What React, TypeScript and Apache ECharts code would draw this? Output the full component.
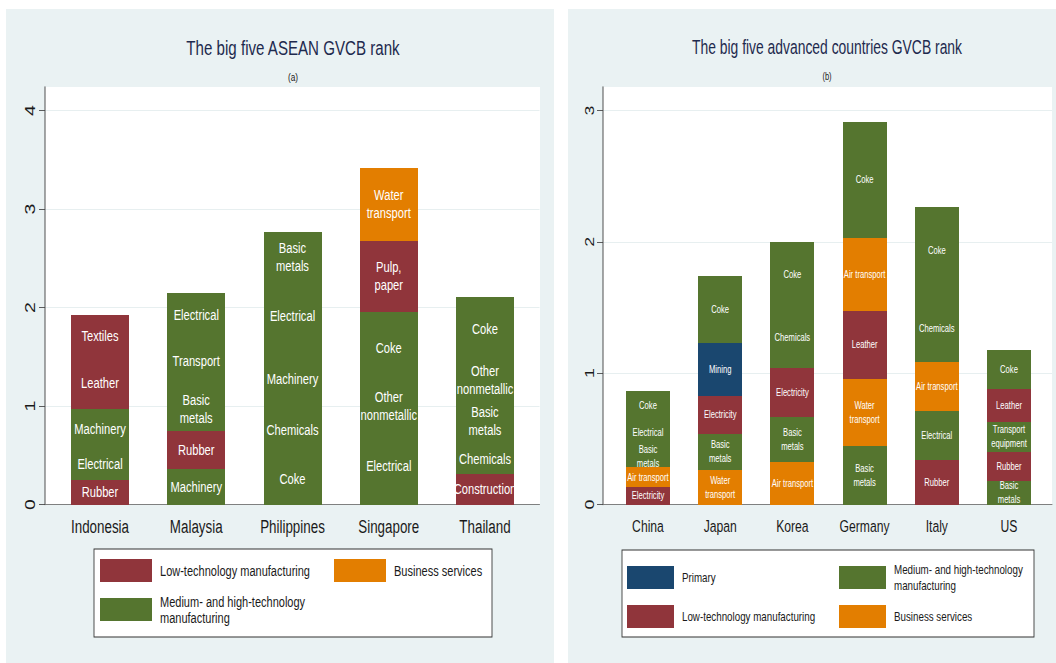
import React, { useEffect, useRef } from 'react';
import * as echarts from 'echarts';

// ---------- DATA ----------
const aseanCountries = ['Indonesia', 'Malaysia', 'Philippines', 'Singapore', 'Thailand'];
const advancedCountries = ['China', 'Japan', 'Korea', 'Germany', 'Italy', 'US'];

// group keys: P = Primary, L = Low-tech manuf., M = Medium/high-tech manuf., B = Business services
const groupKeys = ['P', 'L', 'M', 'B'];
const groupLabels = [
  'Primary',
  'Low-technology manufacturing',
  'Medium- and high-technology\nmanufacturing',
  'Business services',
];
const groupColors = ['#1A476F', '#90353B', '#55752F', '#E37E00'];

type Seg = [string, string, number];

// segments per country, bottom -> top: [sector, group, height]
const indonesia: Seg[] = [['Rubber', 'L', 0.25], ['Electrical', 'M', 0.32], ['Machinery', 'M', 0.4], ['Leather', 'L', 0.53], ['Textiles', 'L', 0.42]];
const malaysia: Seg[] = [['Machinery', 'M', 0.36], ['Rubber', 'L', 0.39], ['Basic\nmetals', 'M', 0.45], ['Transport', 'M', 0.51], ['Electrical', 'M', 0.44]];
const philippines: Seg[] = [['Coke', 'M', 0.53], ['Chemicals', 'M', 0.45], ['Machinery', 'M', 0.59], ['Electrical', 'M', 0.7], ['Basic\nmetals', 'M', 0.5]];
const singapore: Seg[] = [['Electrical', 'M', 0.78], ['Other\nnonmetallic', 'M', 0.44], ['Coke', 'M', 0.74], ['Pulp,\npaper', 'L', 0.72], ['Water\ntransport', 'B', 0.74]];
const thailand: Seg[] = [['Construction', 'L', 0.31], ['Chemicals', 'M', 0.31], ['Basic\nmetals', 'M', 0.46], ['Other\nnonmetallic', 'M', 0.38], ['Coke', 'M', 0.65]];

const china: Seg[] = [['Electricity', 'L', 0.13], ['Air transport', 'B', 0.155], ['Basic\nmetals', 'M', 0.165], ['Electrical', 'M', 0.19], ['Coke', 'M', 0.225]];
const japan: Seg[] = [['Water\ntransport', 'B', 0.26], ['Basic\nmetals', 'M', 0.28], ['Electricity', 'L', 0.29], ['Mining', 'P', 0.4], ['Coke', 'M', 0.51]];
const korea: Seg[] = [['Air transport', 'B', 0.32], ['Basic\nmetals', 'M', 0.35], ['Electricity', 'L', 0.37], ['Chemicals', 'M', 0.47], ['Coke', 'M', 0.49]];
const germany: Seg[] = [['Basic\nmetals', 'M', 0.445], ['Water\ntransport', 'B', 0.51], ['Leather', 'L', 0.52], ['Air transport', 'B', 0.555], ['Coke', 'M', 0.885]];
const italy: Seg[] = [['Rubber', 'L', 0.34], ['Electrical', 'M', 0.37], ['Air transport', 'B', 0.375], ['Chemicals', 'M', 0.515], ['Coke', 'M', 0.665]];
const us: Seg[] = [['Basic\nmetals', 'M', 0.18], ['Rubber', 'L', 0.22], ['Transport\nequipment', 'M', 0.23], ['Leather', 'L', 0.25], ['Coke', 'M', 0.3]];

const aseanData = [indonesia, malaysia, philippines, singapore, thailand];
const advancedData = [china, japan, korea, germany, italy, us];

const aseanTicks = [0, 1, 2, 3, 4];
const advancedTicks = [0, 1, 2, 3];
const aseanMax = 4.24;
const advancedMax = 3.18;

const aseanTitle = 'The big five ASEAN GVCB rank';
const aseanSub = '(a)';
const advancedTitle = 'The big five advanced countries GVCB rank';
const advancedSub = '(b)';

const aseanLegend = ['L', 'B', 'M'];
const advancedLegend = ['P', 'M', 'L', 'B'];

// ---------- STYLE ----------
// The reference is a horizontally squeezed Stata graph: draw at full width, then squeeze with CSS.
const SX = 0.72;
const X = (px: number) => px / SX;
const W = 1056;
const H = 663;
const FONT = "'Liberation Sans', Arial, Helvetica, sans-serif";
const PANEL_BG = '#EAF2F3';
const GRID_LINE = '#E3ECEE';
const TITLE_COLOR = '#1E2A4E';
const TEXT_COLOR = '#1a1a1a';

const colorOf = (k: string) => groupColors[groupKeys.indexOf(k)];
const labelOf = (k: string) => groupLabels[groupKeys.indexOf(k)];

function buildSeries(data: Seg[][], axisIndex: number, stack: string, barWidth: number, fontSize: number, lineHeight: number) {
  const levels = Math.max(...data.map((d) => d.length));
  const out: any[] = [];
  for (let k = 0; k < levels; k++) {
    out.push({
      type: 'bar',
      xAxisIndex: axisIndex,
      yAxisIndex: axisIndex,
      stack,
      barWidth: X(barWidth),
      data: data.map((segs) =>
        segs[k] ? { value: segs[k][2], itemStyle: { color: colorOf(segs[k][1]) } } : '-'
      ),
      label: {
        show: true,
        position: 'inside',
        color: '#ffffff',
        fontFamily: FONT,
        fontSize,
        lineHeight,
        formatter: (p: any) => {
          const s = data[p.dataIndex][k];
          return s ? s[0] : '';
        },
      },
      emphasis: { disabled: true },
    });
  }
  return out;
}

function legendGraphics(keys: string[], box: number[], cols: number[], rows: number[], sw: number, sh: number, textGap: number, fontSize: number, lineHeight: number) {
  const els: any[] = [
    {
      type: 'rect',
      shape: { x: X(box[0]), y: box[1], width: X(box[2]), height: box[3] },
      style: { fill: '#ffffff', stroke: '#333333', lineWidth: 1.2 },
      z: 5,
    },
  ];
  keys.forEach((k, i) => {
    const cx = cols[i % 2];
    const ry = rows[Math.floor(i / 2)];
    els.push({
      type: 'rect',
      shape: { x: X(cx), y: ry, width: X(sw), height: sh },
      style: { fill: colorOf(k) },
      z: 6,
    });
    els.push({
      type: 'text',
      x: X(cx + sw + textGap),
      y: ry + sh / 2,
      style: {
        text: labelOf(k),
        fill: TEXT_COLOR,
        fontFamily: FONT,
        fontSize,
        lineHeight,
        align: 'left',
        verticalAlign: 'middle',
      },
      z: 6,
    });
  });
  return els;
}

function yAxisMain(grid: number, max: number, ticks: number[], fontSize: number, margin: number) {
  return {
    gridIndex: grid,
    type: 'value',
    min: 0,
    max,
    interval: 1,
    axisLine: { show: true, lineStyle: { color: '#444', width: 1.3 } },
    axisTick: { show: true, length: X(6), customValues: ticks, lineStyle: { color: '#444', width: 1 } },
    axisLabel: {
      rotate: 90,
      margin: X(margin),
      fontSize,
      fontFamily: FONT,
      color: TEXT_COLOR,
      customValues: ticks,
      formatter: (v: number) => String(v),
    },
    splitLine: { show: true, lineStyle: { color: GRID_LINE, width: 1 } },
  };
}

function xAxisLine(grid: number) {
  return {
    gridIndex: grid,
    type: 'value',
    min: 0,
    max: 1,
    axisLine: { show: true, lineStyle: { color: '#6e6e6e', width: 1 } },
    axisTick: { show: false },
    axisLabel: { show: false },
    splitLine: { show: false },
  };
}

function xAxisCat(grid: number, cats: string[], fontSize: number, margin: number) {
  return {
    gridIndex: grid,
    type: 'category',
    data: cats,
    axisLine: { show: false },
    axisTick: { show: false },
    axisLabel: { interval: 0, fontSize, fontFamily: FONT, color: TEXT_COLOR, margin },
  };
}

function yAxisHidden(grid: number, max: number) {
  return { gridIndex: grid, type: 'value', min: 0, max, show: false };
}

export default function App() {
  const ref = useRef<HTMLDivElement>(null);

  useEffect(() => {
    if (!ref.current) return;
    const chart = echarts.init(ref.current, undefined, { renderer: 'svg' });
    const top = 87;
    const h = 417.5;

    const option: any = {
      animation: false,
      backgroundColor: '#ffffff',
      grid: [
        { left: X(45), top, width: X(494.5), height: h },
        { left: X(51.875), top, width: X(481.25), height: h },
        { left: X(603), top, width: X(449), height: h },
        { left: X(611.9), top, width: X(433.2), height: h },
      ],
      xAxis: [
        xAxisLine(0),
        xAxisCat(1, aseanCountries, 18.6, 12),
        xAxisLine(2),
        xAxisCat(3, advancedCountries, 16.9, 13.5),
      ],
      yAxis: [
        yAxisMain(0, aseanMax, aseanTicks, 19.5, 7),
        yAxisHidden(1, aseanMax),
        yAxisMain(2, advancedMax, advancedTicks, 17.7, 7),
        yAxisHidden(3, advancedMax),
      ],
      series: [
        ...buildSeries(aseanData, 1, 'asean', 58, 15.5, 18),
        ...buildSeries(advancedData, 3, 'adv', 44, 10.6, 14),
      ],
      graphic: [
        { type: 'rect', shape: { x: X(6), y: 9, width: X(548), height: 660 }, style: { fill: PANEL_BG }, z: -10, silent: true },
        { type: 'rect', shape: { x: X(568), y: 9, width: X(492), height: 660 }, style: { fill: PANEL_BG }, z: -10, silent: true },
        { type: 'rect', shape: { x: X(45), y: top, width: X(494.5), height: h }, style: { fill: '#ffffff' }, z: -9, silent: true },
        { type: 'rect', shape: { x: X(603), y: top, width: X(449), height: h }, style: { fill: '#ffffff' }, z: -9, silent: true },
        {
          type: 'text', x: X(293), y: 48,
          style: { text: aseanTitle, fill: TITLE_COLOR, fontFamily: FONT, fontSize: 21, align: 'center', verticalAlign: 'middle' },
        },
        {
          type: 'text', x: X(293), y: 76.5,
          style: { text: aseanSub, fill: TEXT_COLOR, fontFamily: FONT, fontSize: 11.5, align: 'center', verticalAlign: 'middle' },
        },
        {
          type: 'text', x: X(827), y: 48,
          style: { text: advancedTitle, fill: TITLE_COLOR, fontFamily: FONT, fontSize: 19.3, align: 'center', verticalAlign: 'middle' },
        },
        {
          type: 'text', x: X(827), y: 76.5,
          style: { text: advancedSub, fill: TEXT_COLOR, fontFamily: FONT, fontSize: 10.5, align: 'center', verticalAlign: 'middle' },
        },
        ...legendGraphics(aseanLegend, [94, 549, 398, 88], [100, 334], [559, 598], 52, 23, 8, 15.3, 16),
        ...legendGraphics(advancedLegend, [622, 550, 412, 87], [627, 839], [566, 605], 47, 23, 8, 13.6, 16.3),
      ],
    };
    chart.setOption(option);
    return () => chart.dispose();
  }, []);

  return (
    <div className="gvcb" style={{ position: 'fixed', left: 0, top: 0, width: W, height: H, overflow: 'hidden', background: '#fff' }}>
      <style>{'.gvcb svg path { shape-rendering: crispEdges; }'}</style>
      <div
        ref={ref}
        style={{ width: X(W), height: H, transform: `scaleX(${SX})`, transformOrigin: '0 0' }}
      />
    </div>
  );
}
